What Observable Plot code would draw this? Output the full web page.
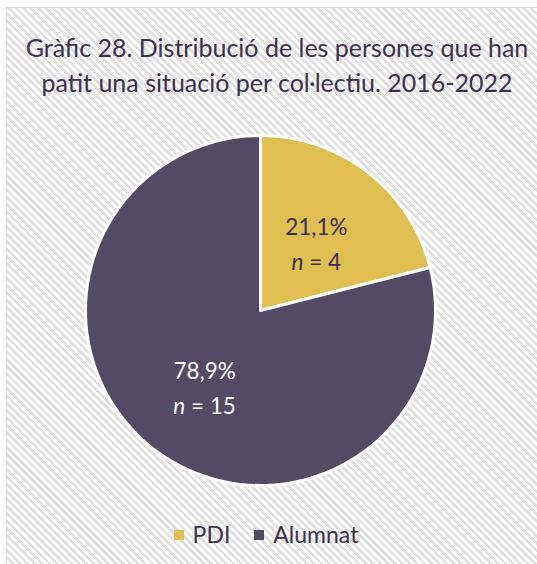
<!DOCTYPE html>
<html>
<head>
<meta charset="utf-8">
<script src="https://cdn.jsdelivr.net/npm/d3@7"></script>
<script src="https://cdn.jsdelivr.net/npm/@observablehq/plot@0.6"></script>
<style>
  html, body { margin: 0; padding: 0; background: #fff; }
  #frame {
    position: absolute; left: 6px; top: 7px; width: 540px; height: 570px;
    border-left: 1.5px solid #d6d6d6; border-top: 1.5px solid #d6d6d6;
    background: repeating-linear-gradient(45deg, #ffffff 0px, #ffffff 2.6px, #e1e1e1 2.6px, #e1e1e1 5.2px);
    overflow: hidden;
  }
  #title {
    position: absolute; left: 0; top: 22px; width: 540px; text-align: center;
    font-family: Lato, "Open Sans", sans-serif; font-size: 25px; line-height: 35px;
    color: #3e3150;
  }
  #chart { position: absolute; left: -7.5px; top: 111.5px; }
  #legend {
    position: absolute; left: 0; top: 512px; width: 518px; text-align: center;
    font-family: Lato, sans-serif; font-size: 23px; color: #3e3150;
  }
  #legend span.item { margin: 0 12px; }
  #legend span.sw { display: inline-block; width: 10px; height: 10px; margin-right: 9px; vertical-align: 3px; }
</style>
</head>
<body>
<div id="frame">
  <div id="title"></div>
  <div id="chart"></div>
  <div id="legend"></div>
</div>
<script>
const titleLines = ["Gràfic 28. Distribució de les persones que han", "patit una situació per col·lectiu. 2016-2022"];
const categories = ["PDI", "Alumnat"];
const counts = [4, 15];
const percentLabels = ["21,1%", "78,9%"];
const colors = ["#e0be52", "#544a63"];
const labelColors = ["#3b3150", "#ffffff"];

document.getElementById("title").innerHTML = titleLines.join("<br>");

// compute slices with d3.pie (clockwise from top)
const pie = d3.pie().sort(null).value(d => d.count);
const rows = categories.map((c, i) => ({cat: c, count: counts[i], pct: percentLabels[i], lc: labelColors[i]}));
const arcs = pie(rows);

const polys = [];
arcs.forEach(a => {
  const steps = 120;
  polys.push({cat: a.data.cat, x: 0, y: 0});
  for (let k = 0; k <= steps; k++) {
    const t = a.startAngle + (a.endAngle - a.startAngle) * k / steps;
    polys.push({cat: a.data.cat, x: Math.sin(t), y: Math.cos(t)});
  }
  polys.push({cat: a.data.cat, x: 0, y: 0});
});

const labels = arcs.map(a => {
  const m = (a.startAngle + a.endAngle) / 2;
  const r = 0.52;
  return {cat: a.data.cat, x: r * Math.sin(m), y: r * Math.cos(m), pct: a.data.pct, n: "n = " + a.data.count, lc: a.data.lc};
});

const plot = Plot.plot({
  width: 537, height: 390,
  margin: 0,
  x: {domain: [-1, 1], range: [85, 435], axis: null},
  y: {domain: [-1, 1], range: [365, 15], axis: null},
  color: {domain: categories, range: colors},
  style: {background: "transparent", fontFamily: "Lato, sans-serif", overflow: "visible"},
  marks: [
    Plot.line(polys, {x: "x", y: "y", z: "cat", fill: "cat", stroke: "white", strokeWidth: 3, strokeLinejoin: "miter", curve: "linear"}),
    Plot.text(labels, {x: "x", y: "y", text: "pct", fill: "lc", fontSize: 22.5, dy: -11}),
    Plot.text(labels, {x: "x", y: "y", text: "n", fill: "lc", fontSize: 22.5, dy: 24, className: "nlab"})
  ]
});
// italic n
d3.select(plot).selectAll("g.nlab text").each(function() {
  const s = d3.select(this);
  const t = s.text();
  s.text(null);
  s.append("tspan").attr("font-style", "italic").text(t.slice(0, 1));
  s.append("tspan").text(t.slice(1));
});
document.getElementById("chart").appendChild(plot);

document.getElementById("legend").innerHTML = categories.map((c, i) =>
  `<span class="item"><span class="sw" style="background:${colors[i]}"></span>${c}</span>`).join("");
</script>
</body>
</html>
